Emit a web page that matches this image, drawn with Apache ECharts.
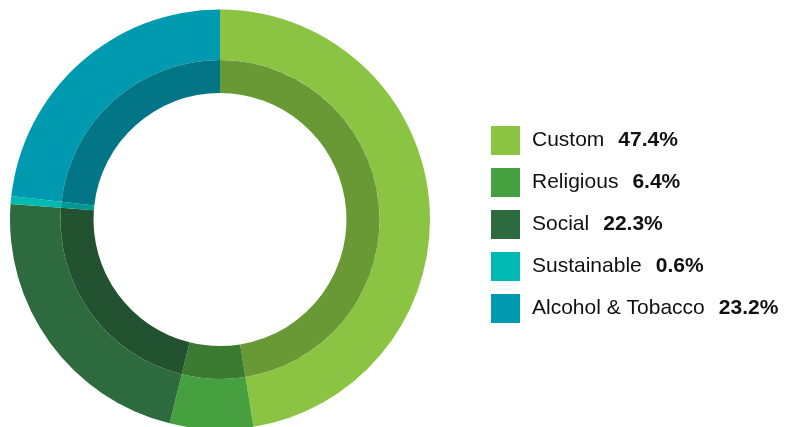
<!DOCTYPE html>
<html>
<head>
<meta charset="utf-8">
<script src="https://cdn.jsdelivr.net/npm/echarts@6/dist/echarts.min.js"></script>
<style>html,body{margin:0;padding:0;background:#fff;}#c{width:799px;height:427px;}</style>
</head>
<body>
<div id="c"></div>
<script>
const categories = ['Custom', 'Religious', 'Social', 'Sustainable', 'Alcohol & Tobacco'];
const values = [47.4, 6.4, 22.3, 0.6, 23.2];
const outerColors = ['#8BC443', '#47A040', '#2D6A3E', '#00BAB2', '#009AB0'];
const innerColors = ['#699934', '#3A7B31', '#225230', '#009990', '#027686'];

const chart = echarts.init(document.getElementById('c'), null, {renderer: 'canvas'});
const mk = (cols) => categories.map((n, i) => ({name: n, value: values[i], itemStyle: {color: cols[i]}}));
chart.setOption({
  animation: false,
  legend: {
    orient: 'vertical',
    left: 491,
    top: 126,
    padding: 0,
    itemWidth: 29,
    itemHeight: 29,
    itemGap: 13,
    icon: 'rect',
    selectedMode: false,
    data: categories,
    formatter: function (name) {
      const i = categories.indexOf(name);
      return '{n|' + name + '}{v|' + values[i].toFixed(1) + '%}';
    },
    textStyle: {
      rich: {
        n: {fontFamily: 'Liberation Sans', fontSize: 21, color: '#111', padding: [0, 0, 0, 7]},
        v: {fontFamily: 'Liberation Sans', fontSize: 21, fontWeight: 'bold', color: '#111', padding: [0, 0, 0, 14]}
      }
    }
  },
  series: [
    {
      type: 'pie',
      center: [220, 219.5],
      radius: [159.5, 210],
      startAngle: 90,
      clockwise: true,
      label: {show: false},
      labelLine: {show: false},
      emphasis: {disabled: true},
      silent: true,
      data: mk(outerColors)
    },
    {
      type: 'pie',
      center: [220, 219.5],
      radius: [126.5, 159.5],
      startAngle: 90,
      clockwise: true,
      label: {show: false},
      labelLine: {show: false},
      emphasis: {disabled: true},
      silent: true,
      data: mk(innerColors)
    }
  ]
});
</script>
</body>
</html>
